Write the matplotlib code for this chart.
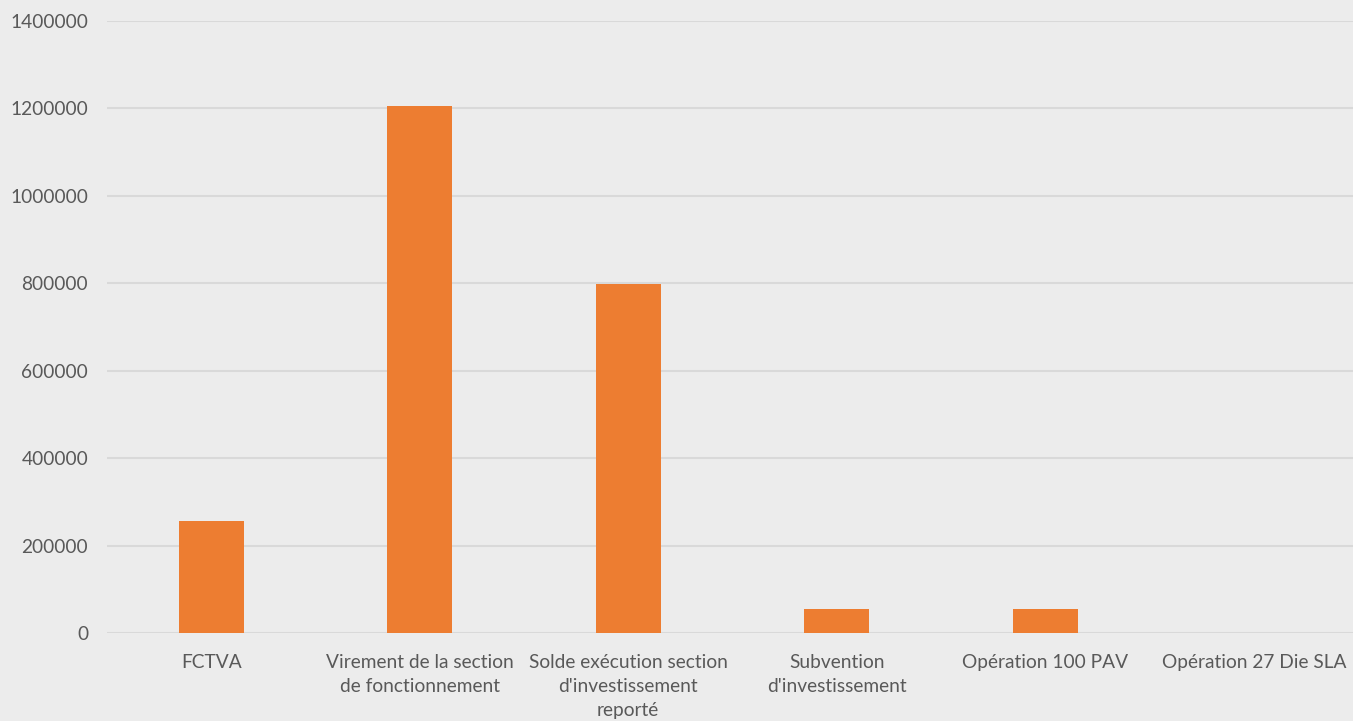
import matplotlib.pyplot as plt
import numpy as np

categories = [
    "FCTVA",
    "Virement de la section\nde fonctionnement",
    "Solde exécution section\nd'investissement\nreporté",
    "Subvention\nd'investissement",
    "Opération 100 PAV",
    "Opération 27 Die SLA",
]
values = [256000, 1205000, 798000, 55000, 56000, 1000]
yticks = [0, 200000, 400000, 600000, 800000, 1000000, 1200000, 1400000]

plt.rcParams['font.family'] = ['Lato', 'DejaVu Sans']
text_color = "#595959"
bg = "#ECECEC"

fig = plt.figure(figsize=(13.53, 7.21), dpi=100, facecolor=bg)
ax = fig.add_axes([107 / 1353, 88 / 721, 1251 / 1353, 612 / 721])
ax.set_facecolor(bg)

x = np.arange(len(categories))
ax.bar(x, values, width=0.31, color="#ED7D31", zorder=3)

ax.set_xlim(-0.5, len(categories) - 0.5)
ax.set_ylim(0, 1400000)
ax.set_yticks(yticks)
ax.set_yticklabels([str(v) for v in yticks])
ax.set_xticks(x)
ax.set_xticklabels(categories, multialignment="center", linespacing=1.5)

ax.grid(axis="y", color="#D9D9D9", linewidth=1.5, zorder=0)
for s in ax.spines.values():
    s.set_visible(False)
ax.tick_params(axis="both", length=0, colors=text_color, labelsize=13.8)
ax.tick_params(axis="y", pad=13.5)
ax.tick_params(axis="x", pad=15)

fig.savefig("out.png", dpi=100, facecolor=bg)
